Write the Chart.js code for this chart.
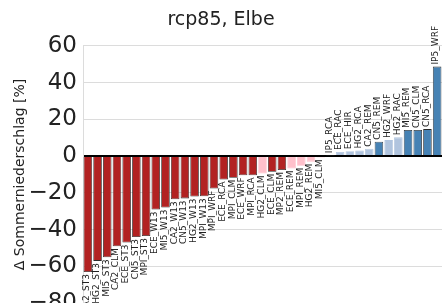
<!DOCTYPE html>
<html>
<head>
<meta charset="utf-8">
<script src="https://cdn.jsdelivr.net/npm/chart.js@4/dist/chart.umd.min.js"></script>
<style>
  html, body { margin: 0; padding: 0; background: #fff; overflow: hidden; }
  #wrap { width: 442px; height: 303px; overflow: hidden; }
</style>
</head>
<body>
<div id="wrap"><canvas id="chart" width="442" height="323"></canvas></div>
<script>
// Modelle (GCM_RCM), sortiert nach Änderung
const models = ['CA2_ST3', 'HG2_ST3', 'MI5_ST3', 'CA2_CLM', 'ECE_ST3', 'CN5_ST3', 'MPI_ST3',
    'ECE_W13', 'MI5_W13', 'CA2_W13', 'CN5_W13', 'HG2_W13', 'MPI_W13', 'MPI_WRF', 'ECE_RCA',
    'MPI_CLM', 'ECE_WRF', 'MPI_RCA', 'HG2_CLM', 'ECE_CLM', 'MP2_REM', 'ECE_REM', 'MPI_REM',
    'HG2_REM', 'MI5_CLM', 'IP5_RCA', 'ECE_RAC', 'ECE_HIR', 'HG2_RCA', 'CA2_REM', 'CN5_REM',
    'HG2_WRF', 'HG2_RAC', 'MI5_REM', 'CN5_CLM', 'CN5_RCA', 'IP5_WRF'];

// Δ Sommerniederschlag [%]
const changes = [-63, -57, -55, -49, -47, -44, -43.5,
    -29, -28, -23.5, -23, -22, -21.8, -17.6, -12.7,
    -11.8, -10.4, -10.4, -9.5, -8.5, -7.6, -6.7, -5.3,
    -3, -0.8, 0.5, 2.3, 2.7, 3.1, 4, 7.8,
    8.7, 10.2, 14.2, 14.2, 14.7, 48.7];

// signifikant = kräftige Farbe
const significant = [1, 1, 1, 1, 1, 1, 1,
    1, 1, 1, 1, 1, 1, 1, 1,
    1, 1, 1, 0, 1, 1, 0, 0,
    0, 0, 0, 0, 0, 0, 0, 1,
    0, 0, 1, 1, 1, 1];

const yTicks = [-80, -60, -40, -20, 0, 20, 40, 60];

const FONT = "'DejaVu Sans', sans-serif";

function barColor(v, s) {
    if (v < 0) return s ? '#b22222' : '#ffc0cb';
    return s ? '#4682b4' : '#b0c4de';
}
function edgeColor(v, s) {
    if (s) return '#2a2a2a';
    return barColor(v, s);
}

// Modellnamen senkrecht an die Balkenenden schreiben
const barLabels = {
    id: 'barLabels',
    afterDatasetsDraw(chart) {
        const ctx = chart.ctx;
        const meta = chart.getDatasetMeta(0);
        ctx.save();
        ctx.font = '9px ' + FONT;
        ctx.fillStyle = '#222';
        ctx.textBaseline = 'middle';
        meta.data.forEach((bar, i) => {
            const v = changes[i];
            ctx.save();
            ctx.translate(bar.x - 1, v < 0 ? bar.y + 2 : bar.y - 2);
            ctx.rotate(-Math.PI / 2);
            ctx.textAlign = v < 0 ? 'right' : 'left';
            ctx.fillText(models[i], 0, 0);
            ctx.restore();
        });
        ctx.restore();
    }
};

new Chart(document.getElementById('chart'), {
    type: 'bar',
    data: {
        labels: models,
        datasets: [{
            data: changes,
            backgroundColor: changes.map((v, i) => barColor(v, significant[i])),
            borderColor: changes.map((v, i) => edgeColor(v, significant[i])),
            borderWidth: 0.8,
            borderSkipped: 'start',
            categoryPercentage: 1.0,
            barPercentage: 0.88
        }]
    },
    options: {
        responsive: false,
        animation: false,
        devicePixelRatio: 1,
        layout: { padding: { left: 0, right: 0, top: 0, bottom: 0 } },
        plugins: {
            legend: { display: false },
            tooltip: { enabled: false },
            title: {
                display: true,
                text: 'rcp85, Elbe',
                color: '#222',
                font: { family: FONT, size: 19, weight: 'normal' },
                padding: { top: 9, bottom: 14 }
            }
        },
        scales: {
            x: { display: false },
            y: {
                min: -80,
                max: 60,
                afterFit: (scale) => { scale.width = 83; },
                afterBuildTicks: (scale) => { scale.ticks = yTicks.map(v => ({ value: v })); },
                ticks: {
                    color: '#222',
                    padding: 6,
                    font: { family: FONT, size: 23 },
                    callback: (v) => (v < 0 ? '\u2212' + Math.abs(v) : String(v))
                },
                grid: {
                    drawTicks: false,
                    color: (c) => (c.tick && c.tick.value === 0 ? '#000' : '#dcdcdc'),
                    lineWidth: (c) => (c.tick && c.tick.value === 0 ? 2 : 1)
                },
                border: { display: true, color: '#dcdcdc' },
                title: {
                    display: true,
                    text: '\u0394 Sommerniederschlag [%]',
                    color: '#222',
                    font: { family: FONT, size: 14 },
                    padding: { top: 12, bottom: 0 }
                }
            }
        }
    },
    plugins: [barLabels]
});
</script>
</body>
</html>
